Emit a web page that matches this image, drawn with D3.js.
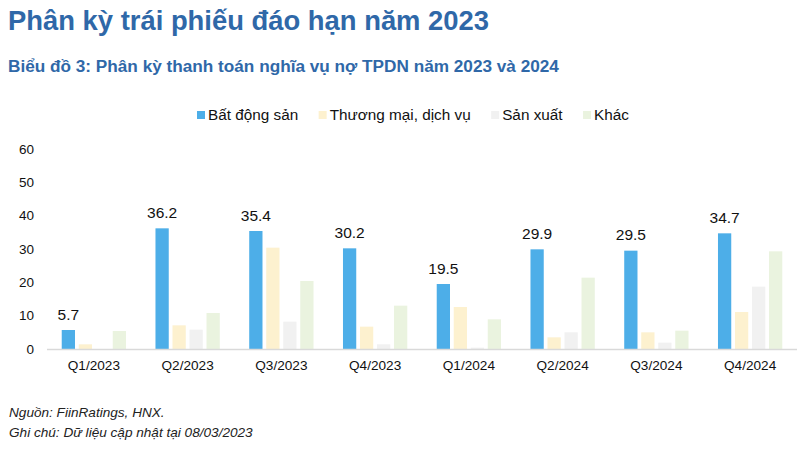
<!DOCTYPE html>
<html><head><meta charset="utf-8">
<script src="https://cdn.jsdelivr.net/npm/d3@7"></script>
<style>
body{margin:0;background:#fff;}
text{font-family:Arial,"Liberation Sans",sans-serif;}
</style></head>
<body><svg id="c" width="800" height="451"></svg>
<script>
const categories = ["Q1/2023","Q2/2023","Q3/2023","Q4/2023","Q1/2024","Q2/2024","Q3/2024","Q4/2024"];
const seriesNames = ["Bất động sản","Thương mại, dịch vụ","Sản xuất","Khác"];
const batDongSan = [5.7,36.2,35.4,30.2,19.5,29.9,29.5,34.7];
const thuongMai = [1.4,7.1,30.4,6.7,12.6,3.5,5.0,11.1];
const sanXuat = [0,5.8,8.2,1.4,0.4,5.0,1.9,18.7];
const khac = [5.4,10.8,20.4,13.0,8.9,21.4,5.5,29.3];
const yTicks = [0,10,20,30,40,50,60];
const colors = ["#4DAEE8","#FDF1CF","#F1F1F1","#EAF3DF"];
const seriesVals = [batDongSan,thuongMai,sanXuat,khac];

const svg = d3.select("#c");
const titleColor = "#2F68A8";
svg.append("text").attr("x",8).attr("y",30).attr("font-size",27.4).attr("font-weight","bold")
  .attr("fill",titleColor).text("Phân kỳ trái phiếu đáo hạn năm 2023");
svg.append("text").attr("x",8).attr("y",71.5).attr("font-size",17.2).attr("font-weight","bold")
  .attr("fill",titleColor).text("Biểu đồ 3: Phân kỳ thanh toán nghĩa vụ nợ TPDN năm 2023 và 2024");

// legend
let lx = 197;
seriesNames.forEach((n,i)=>{
  svg.append("rect").attr("x",lx).attr("y",111).attr("width",8).attr("height",8).attr("fill",colors[i]);
  const t = svg.append("text").attr("x",lx+11).attr("y",120).attr("font-size",15.3).attr("fill","#111").text(n);
  lx = lx + 11 + t.node().getComputedTextLength() + 20.5;
});

const x0 = d3.scaleBand().domain(categories).range([47,797]).padding(0);
const inner = 64.3;
const x1 = d3.scaleBand().domain(d3.range(4)).range([0,inner]).paddingInner(0.22).paddingOuter(0);
const y = d3.scaleLinear().domain([0,60]).range([349,149]);

// y tick labels
svg.append("g").selectAll("text").data(yTicks).join("text")
  .attr("x",34).attr("y",d=>y(d)).attr("dy","0.35em").attr("text-anchor","end")
  .attr("font-size",13.5).attr("fill","#111").text(d=>d);

// bars
const off = (x0.bandwidth()-inner)/2;
const g = svg.append("g");
categories.forEach((c,ci)=>{
  seriesVals.forEach((arr,si)=>{
    const v = arr[ci];
    if(v<=0) return;
    g.append("rect").attr("x",x0(c)+off+x1(si)).attr("y",y(v))
      .attr("width",x1.bandwidth()).attr("height",y(0)-y(v)).attr("fill",colors[si]);
  });
  svg.append("text").attr("x",x0(c)+off+x1(0)+x1.bandwidth()/2).attr("y",y(batDongSan[ci])-10.5)
    .attr("text-anchor","middle").attr("font-size",15.5).attr("fill","#111").text(batDongSan[ci].toFixed(1));
});

// axis line
svg.append("line").attr("x1",47).attr("x2",797).attr("y1",y(0)+0.5).attr("y2",y(0)+0.5)
  .attr("stroke","#D9D9D9").attr("stroke-width",1.5);

// x labels
svg.append("g").selectAll("text").data(categories).join("text")
  .attr("x",d=>x0(d)+x0.bandwidth()/2).attr("y",370).attr("text-anchor","middle")
  .attr("font-size",13.6).attr("fill","#111").text(d=>d);

// footer
svg.append("text").attr("x",9).attr("y",416.5).attr("font-size",13.6).attr("font-style","italic")
  .attr("fill","#222").text("Nguồn: FiinRatings, HNX.");
svg.append("text").attr("x",9).attr("y",437).attr("font-size",13.6).attr("font-style","italic")
  .attr("fill","#222").text("Ghi chú: Dữ liệu cập nhật tại 08/03/2023");
</script></body></html>
